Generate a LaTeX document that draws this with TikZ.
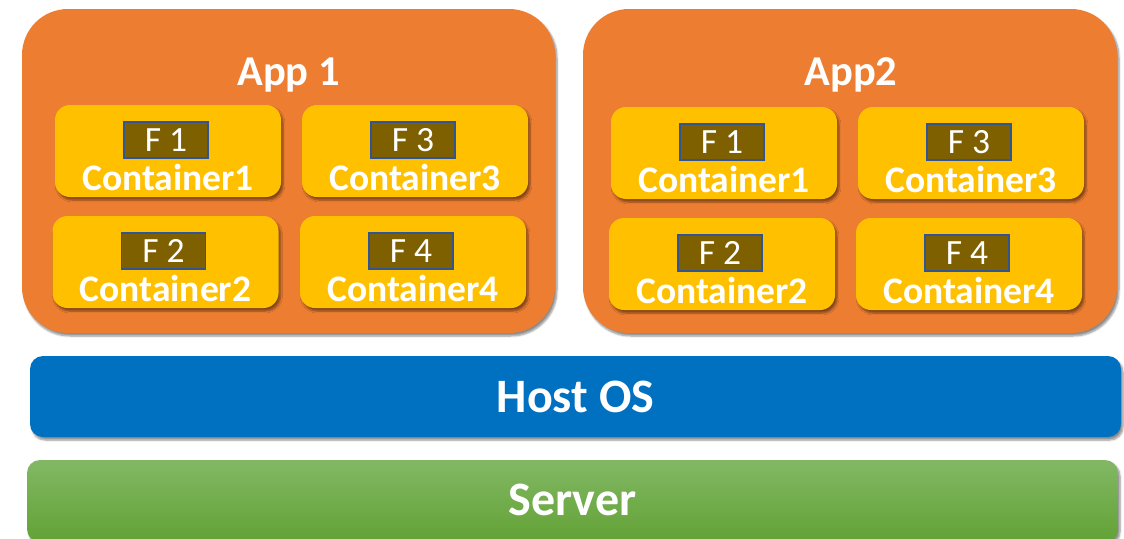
\documentclass[tikz,border=0pt]{standalone}
\usepackage{fontspec}
\setmainfont{Carlito}
\usetikzlibrary{calc,shadows.blur}
\definecolor{apporange}{HTML}{ED7D31}
\definecolor{contgold}{HTML}{FFC000}
\definecolor{fbrown}{HTML}{7F6000}
\definecolor{fborder}{HTML}{2F5597}
\definecolor{hostblue}{HTML}{0070C0}
\definecolor{servtop}{HTML}{82B864}
\definecolor{servbot}{HTML}{62A235}
\tikzset{
  shad/.style={blur shadow={shadow xshift=2pt, shadow yshift=-3pt, shadow blur steps=6, shadow opacity=45}},
  appbox/.style={shad, fill=apporange, rounded corners=46pt, minimum width=533pt, minimum height=324pt, inner sep=0pt},
  contbox/.style={shad, fill=contgold, rounded corners=15pt, minimum width=226pt, minimum height=92pt, inner sep=0pt},
  fbox/.style={fill=fbrown, draw=fborder, line width=1.2pt, minimum width=84pt, minimum height=36pt, inner sep=0pt, text=white, font=\fontsize{35.5}{35.5}\selectfont},
  contlabel/.style={anchor=base, text=white, inner sep=0pt, font=\fontsize{37.5}{37.5}\selectfont\bfseries},
  apptitle/.style={anchor=base, text=white, inner sep=0pt, font=\fontsize{42.5}{42.5}\selectfont\bfseries},
  layerlabel/.style={text=white, inner sep=0pt, font=\fontsize{48}{48}\selectfont\bfseries},
}
\newcommand{\mycontainer}[5]{%
  \node[contbox] (#1) at (#2,#3) {};
  \node[fbox] (#1f) at ($(#1.center)+(-2,-11)$) {#4};
  \node[contlabel] (#1t) at ($(#1.center)+(0,39)$) {#5};
}
\begin{document}
\begin{tikzpicture}[x=1pt,y=-1pt]
\useasboundingbox (0,0) rectangle (1124,538);
% apps
\node[appbox] (app1) at (288.5,171) {};
\node[appbox, minimum width=534pt] (app2) at (850,171) {};
\node[apptitle] (app1t) at (288.5,85) {App 1};
\node[apptitle] (app2t) at (851,85) {App2};
% containers app1
\mycontainer{a1c1}{168}{151}{F 1}{Container1}
\mycontainer{a1c3}{415}{151}{F 3}{Container3}
\mycontainer{a1c2}{165.5}{262}{F 2}{Container2}
\mycontainer{a1c4}{413}{262}{F 4}{Container4}
% containers app2
\mycontainer{a2c1}{724}{153}{F 1}{Container1}
\mycontainer{a2c3}{971}{153}{F 3}{Container3}
\mycontainer{a2c2}{722}{264}{F 2}{Container2}
\mycontainer{a2c4}{969}{264}{F 4}{Container4}
% host OS
\node[shad, fill=hostblue, rounded corners=13pt, minimum width=1091pt, minimum height=81pt, inner sep=0pt] (host) at (575.5,396.5) {};
\node[layerlabel] (hostt) at (host.center) {Host OS};
% server
\node[shad, top color=servtop, bottom color=servbot, draw=none, rounded corners=13pt, minimum width=1091pt, minimum height=82pt, inner sep=0pt] (server) at (572.5,501) {};
\node[layerlabel] (servert) at ($(server.center)+(0,-1)$) {Server};
\end{tikzpicture}
\end{document}
